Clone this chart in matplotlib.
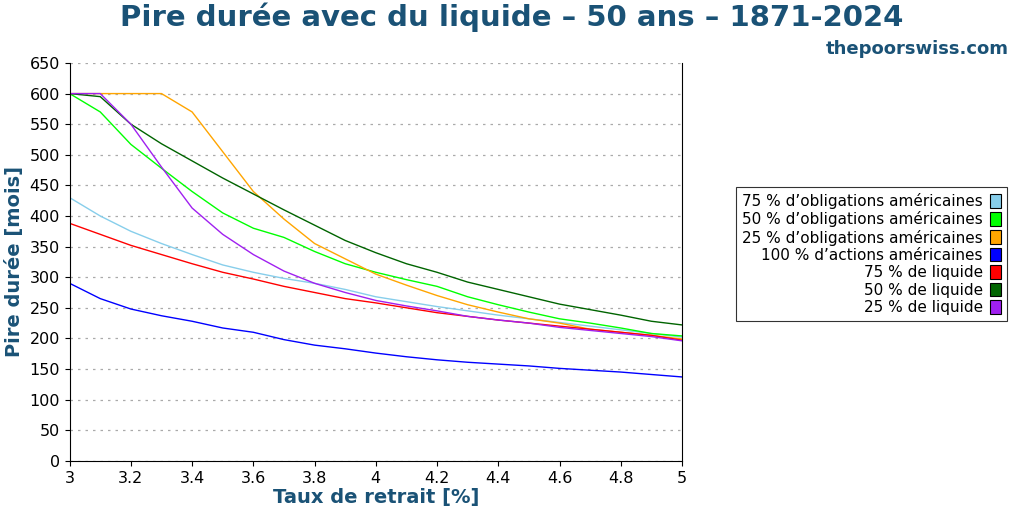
import numpy as np
import matplotlib
matplotlib.use("Agg")
import matplotlib.pyplot as plt
from matplotlib.patches import Patch

# Withdrawal rates
rates = np.round(np.arange(3.0, 5.01, 0.1), 1)

# Worst duration (months) per portfolio
bonds75 = [430, 400, 375, 355, 337, 320, 308, 298, 290, 280, 268, 260, 252, 245, 238, 232, 226, 220, 214, 208, 202]
bonds50 = [600, 570, 517, 478, 440, 405, 380, 365, 342, 322, 308, 296, 285, 268, 255, 243, 232, 225, 217, 208, 204]
bonds25 = [600, 600, 600, 600, 570, 505, 440, 395, 355, 330, 305, 287, 270, 255, 243, 232, 225, 215, 210, 205, 199]
stocks100 = [290, 265, 248, 237, 228, 217, 210, 198, 189, 183, 176, 170, 165, 161, 158, 155, 151, 148, 145, 141, 137]
cash75 = [388, 370, 352, 337, 322, 308, 297, 285, 275, 265, 258, 250, 242, 236, 230, 225, 220, 215, 210, 205, 197]
cash50 = [600, 595, 550, 518, 490, 462, 436, 410, 385, 360, 340, 322, 308, 292, 280, 268, 256, 247, 238, 228, 222]
cash25 = [600, 600, 550, 480, 413, 370, 337, 310, 290, 275, 262, 253, 245, 236, 230, 225, 218, 213, 208, 203, 196]

series = [
    ("75 % d\u2019obligations américaines", bonds75, "#87ceeb"),
    ("50 % d\u2019obligations américaines", bonds50, "#00ff00"),
    ("25 % d\u2019obligations américaines", bonds25, "#ffa500"),
    ("100 % d\u2019actions américaines", stocks100, "#0000ff"),
    ("75 % de liquide", cash75, "#ff0000"),
    ("50 % de liquide", cash50, "#006400"),
    ("25 % de liquide", cash25, "#a020f0"),
]

title_color = "#1a5276"

fig = plt.figure(figsize=(10.24, 5.12), dpi=100)
ax = fig.add_axes([0.068, 0.1, 0.598, 0.777])

for label, vals, color in series:
    ax.plot(rates, vals, color=color, linewidth=1)

ax.set_xlim(3, 5)
ax.set_ylim(0, 650)
ax.set_xticks(np.arange(3, 5.01, 0.2))
ax.set_xticklabels(["3", "3.2", "3.4", "3.6", "3.8", "4", "4.2", "4.4", "4.6", "4.8", "5"])
ax.set_yticks(range(0, 651, 50))
ax.tick_params(labelsize=11.5)
ax.grid(axis="y", linestyle=(0, (2, 4)), color="#aaaaaa", linewidth=0.9)
ax.spines["top"].set_visible(False)
ax.set_xlabel("Taux de retrait [%]", fontsize=14, fontweight="bold", color=title_color, labelpad=2)
ax.set_ylabel("Pire durée [mois]", fontsize=14, fontweight="bold", color=title_color, labelpad=4)

fig.suptitle("Pire durée avec du liquide \u2013 50 ans \u2013 1871-2024", fontsize=21,
             fontweight="bold", color=title_color, x=0.5, y=0.995)
fig.text(0.985, 0.895, "thepoorswiss.com", ha="right", fontsize=13, fontweight="bold", color=title_color)

handles = [Patch(facecolor=c, edgecolor="black", linewidth=0.8, label=l) for l, v, c in series]
leg = fig.legend(handles=handles, loc="center", bbox_to_anchor=(0.851, 0.504), markerfirst=False,
                 fontsize=11, frameon=True, fancybox=False, edgecolor="black",
                 handlelength=0.7, handleheight=1.0, labelspacing=0.15, handletextpad=0.5,
                 borderpad=0.4)
leg.get_frame().set_linewidth(0.8)

fig.savefig("out.png", dpi=100)
